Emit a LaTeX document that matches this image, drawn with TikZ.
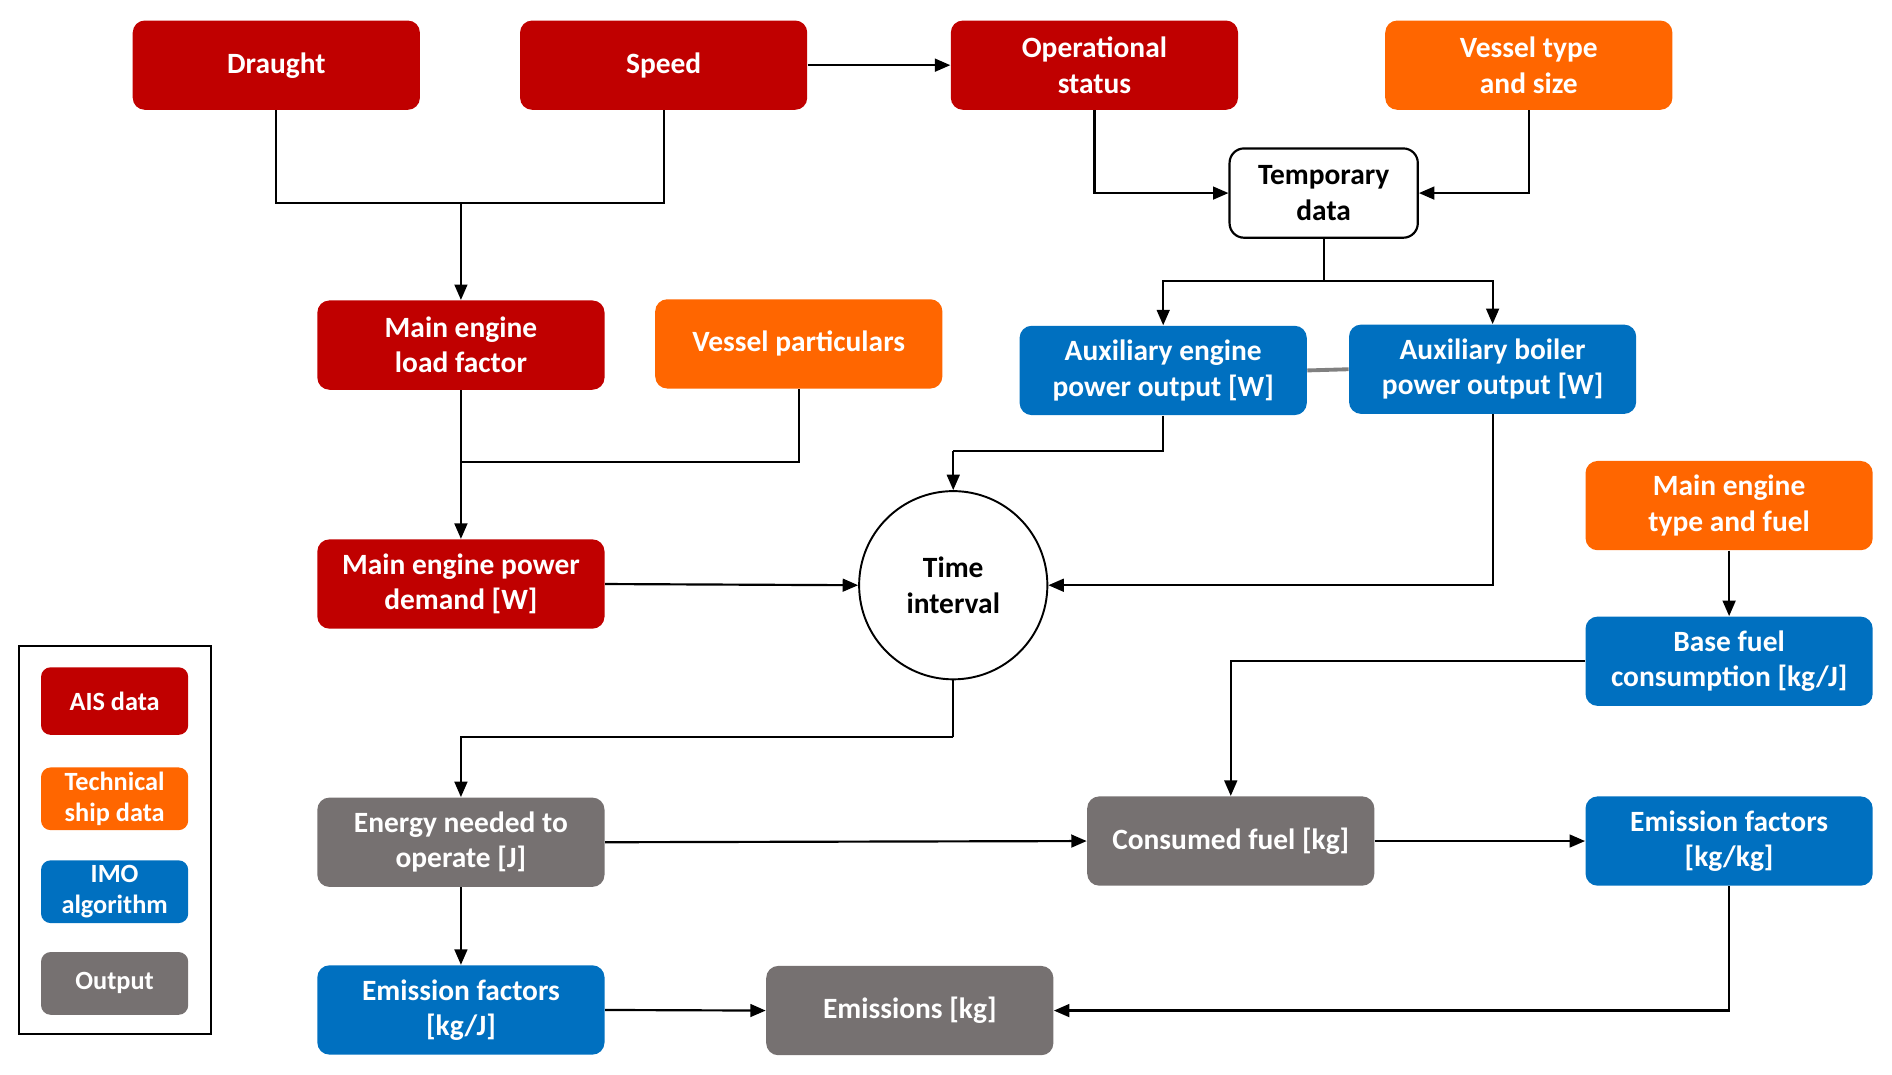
\documentclass[tikz,border=0pt]{standalone}
\usepackage{fontspec}
\setmainfont{Carlito}
\usetikzlibrary{arrows.meta}
\definecolor{aisred}{HTML}{C00000}
\definecolor{techorange}{HTML}{FF6600}
\definecolor{imoblue}{HTML}{0070C0}
\definecolor{outgray}{HTML}{767171}
\definecolor{linkgray}{HTML}{808080}
\begin{document}
\begin{tikzpicture}[x=0.5pt,y=-0.5pt,
  box/.style={rounded corners=5pt, minimum width=119pt, minimum height=37pt, inner sep=1pt, align=center, text=white,
    font=\fontsize{12.2pt}{14.6pt}\selectfont\bfseries},
  ais/.style={box, fill=aisred},
  tech/.style={box, fill=techorange},
  imo/.style={box, fill=imoblue},
  outp/.style={box, fill=outgray},
  leg/.style={rounded corners=4pt, minimum width=61pt, minimum height=26pt, inner sep=1pt, align=center, text=white,
    font=\fontsize{10.9pt}{13pt}\selectfont\bfseries},
  conn/.style={line width=0.9pt, draw=black},
  arr/.style={conn, -{Triangle[length=6.4pt,width=5.3pt]}}]
\useasboundingbox (0,0) rectangle (1568,890.1);
% top row
\node[ais] (draught) at (229,54) {Draught};
\node[ais] (speed) at (550,54) {Speed};
\node[ais] (opstat) at (907,54) {Operational\\status};
\node[tech] (vtype) at (1267,54) {Vessel type\\and size};
\node[box, text=black, fill=white, draw=black, line width=0.9pt, minimum width=78pt, rounded corners=6pt] (temp) at (1097,160) {Temporary\\data};
% second row
\node[ais] (load) at (382,286) {Main engine\\load factor};
\node[tech] (vpart) at (662,285) {Vessel particulars};
\node[imo] (auxe) at (964,307) {Auxiliary engine\\power output [W]};
\node[imo] (auxb) at (1237,306) {Auxiliary boiler\\power output [W]};
\node[tech] (metype) at (1433,419) {Main engine\\type and fuel};
% third row
\node[ais] (pdem) at (382,484) {Main engine power\\demand [W]};
\node[circle, draw=black, line width=0.8pt, minimum size=78pt, inner sep=0pt, align=center,
  font=\fontsize{12.2pt}{14.6pt}\selectfont\bfseries] (ti) at (790,485) {Time\\interval};
\node[imo] (bfc) at (1433,548) {Base fuel\\consumption [kg/J]};
% fourth row
\node[outp] (energy) at (382,698) {Energy needed to\\operate [J]};
\node[outp] (cfuel) at (1020,697) {Consumed fuel [kg]};
\node[imo] (efkg) at (1433,697) {Emission factors\\{[kg/kg]}};
% fifth row
\node[imo] (efj) at (382,837) {Emission factors\\{[kg/J]}};
\node[outp] (emis) at (754,837.5) {Emissions [kg]};
% legend
\node[draw=black, line width=0.8pt, minimum width=79.5pt, minimum height=161pt, inner sep=0pt] (legframe) at (95.5,696) {};
\node[leg, fill=aisred, minimum height=28pt] (lais) at (95,581) {AIS data};
\node[leg, fill=techorange] (ltech) at (95,662) {Technical\\ship data};
\node[leg, fill=imoblue] (limo) at (95,739) {IMO\\algorithm};
\node[leg, fill=outgray] (lout) at (95,815) {Output};
% junction coordinates
\coordinate (j1) at (382,168);
\coordinate (j2) at (382,383);
\coordinate (j3) at (1097,233);
\coordinate (j4) at (790,374);
\coordinate (j5) at (790,611);
% connectors
\draw[conn] (draught.south) |- (j1) -| (speed.south);
\draw[arr] (j1) -- (load.north);
\draw[arr] (speed.east) -- (opstat.west);
\draw[arr] (opstat.south) |- (temp.west);
\draw[arr] (vtype.south) |- (temp.east);
\draw[conn] (temp.south) -- (j3);
\draw[arr] (j3) -| (auxe.north);
\draw[arr] (j3) -| (auxb.north);
\draw[draw=linkgray, line width=1.6pt] (auxe.east) -- (auxb.west);
\draw[conn] (auxe.south) |- (j4);
\draw[arr] (j4) -- (ti.north);
\draw[arr] (auxb.south) |- (ti.east);
\draw[arr] (load.south) -- (pdem.north);
\draw[conn] (vpart.south) |- (j2);
\draw[arr] (pdem.east) -- (ti.west);
\draw[conn] (ti.south) -- (j5);
\draw[arr] (j5) -| (energy.north);
\draw[arr] (metype.south) -- (bfc.north);
\draw[arr] (bfc.west) -| (cfuel.north);
\draw[arr] (energy.east) -- (cfuel.west);
\draw[arr] (cfuel.east) -- (efkg.west);
\draw[arr] (energy.south) -- (efj.north);
\draw[arr] (efj.east) -- (emis.west);
\draw[arr] (efkg.south) |- (emis.east);
\end{tikzpicture}
\end{document}
